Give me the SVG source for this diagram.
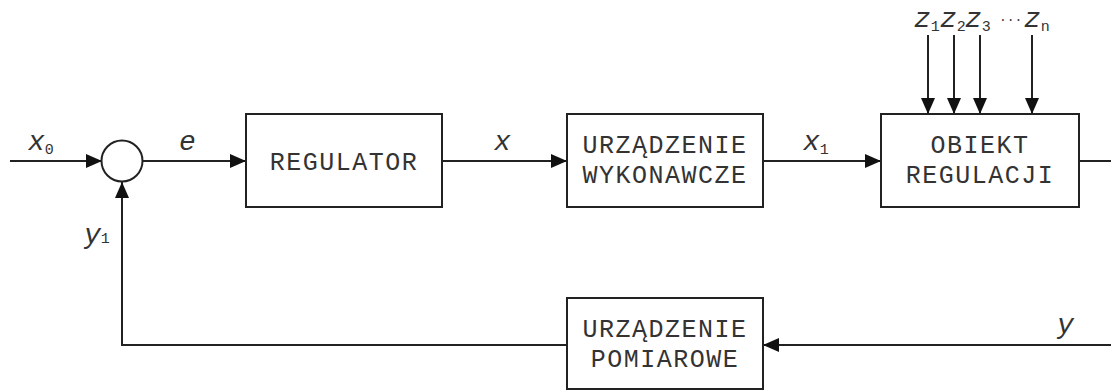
<svg xmlns="http://www.w3.org/2000/svg" width="1111" height="390" viewBox="0 0 1111 390">
  <defs>
    <marker id="arrow" markerUnits="userSpaceOnUse" markerWidth="16" markerHeight="16" viewBox="0 0 16 16" refX="16" refY="8" orient="auto">
      <path d="M0,1 L16,8 L0,15 Z" fill="#111"/>
    </marker>
    <style>
      .box { fill: #fff; stroke: #222; stroke-width: 2; }
      .wire { fill: none; stroke: #222; stroke-width: 2; }
      .lbl { font-family: "Liberation Mono", "Courier New", monospace; font-size: 25px; fill: #333; text-anchor: middle; letter-spacing: 1.5px; }
      .var { font-family: "Liberation Mono", "Courier New", monospace; font-size: 28px; font-style: italic; fill: #333; }
      .sub { font-size: 15px; font-style: normal; }
    </style>
  </defs>

  <!-- signal paths -->
  <g id="connectors">
    <line class="wire" x1="10" y1="161" x2="102" y2="161" marker-end="url(#arrow)"/>
    <line class="wire" x1="143" y1="161" x2="246" y2="161" marker-end="url(#arrow)"/>
    <line class="wire" x1="442" y1="161" x2="567" y2="161" marker-end="url(#arrow)"/>
    <line class="wire" x1="763" y1="161" x2="881" y2="161" marker-end="url(#arrow)"/>
    <line class="wire" x1="1079" y1="161" x2="1111" y2="161"/>
    <line class="wire" x1="928" y1="35" x2="928" y2="114" marker-end="url(#arrow)"/>
    <line class="wire" x1="954" y1="35" x2="954" y2="114" marker-end="url(#arrow)"/>
    <line class="wire" x1="980" y1="35" x2="980" y2="114" marker-end="url(#arrow)"/>
    <line class="wire" x1="1032" y1="35" x2="1032" y2="114" marker-end="url(#arrow)"/>
    <line class="wire" x1="1111" y1="345" x2="763" y2="345" marker-end="url(#arrow)"/>
    <polyline class="wire" points="567,345 122,345 122,182" marker-end="url(#arrow)"/>
  </g>

  <!-- signal names -->
  <g id="labels">
    <text class="var" x="28" y="150">x<tspan class="sub" dy="4">0</tspan></text>
    <text class="var" x="179" y="150">e</text>
    <text class="var" x="494" y="150">x</text>
    <text class="var" x="803" y="150">x<tspan class="sub" dy="4">1</tspan></text>
    <text class="var" x="84" y="243">y<tspan class="sub">1</tspan></text>
    <text class="var" x="1057" y="333">y</text>
    <text class="var" x="914" y="27">z<tspan class="sub" dy="4">1</tspan></text>
    <text class="var" x="940" y="27">z<tspan class="sub" dy="4">2</tspan></text>
    <text class="var" x="965" y="27">z<tspan class="sub" dy="4">3</tspan></text>
    <text class="var" x="999" y="24" style="font-size:13px;font-style:normal">···</text>
    <text class="var" x="1024" y="27">z<tspan class="sub" dy="4">n</tspan></text>
  </g>

  <g id="summing-junction">
    <circle cx="122" cy="161" r="20.5" fill="#fff" stroke="#222" stroke-width="2"/>
  </g>

  <g id="regulator">
    <rect class="box" x="246" y="114" width="196" height="93"/>
    <text class="lbl" x="344" y="170">REGULATOR</text>
  </g>

  <g id="urzadzenie-wykonawcze">
    <rect class="box" x="567" y="114" width="196" height="93"/>
    <text class="lbl" x="665" y="153">URZĄDZENIE</text>
    <text class="lbl" x="665" y="183">WYKONAWCZE</text>
  </g>

  <g id="obiekt-regulacji">
    <rect class="box" x="881" y="114" width="198" height="93"/>
    <text class="lbl" x="980" y="153">OBIEKT</text>
    <text class="lbl" x="980" y="183">REGULACJI</text>
  </g>

  <g id="urzadzenie-pomiarowe">
    <rect class="box" x="567" y="298" width="196" height="91"/>
    <text class="lbl" x="665" y="337">URZĄDZENIE</text>
    <text class="lbl" x="665" y="367">POMIAROWE</text>
  </g>
</svg>
